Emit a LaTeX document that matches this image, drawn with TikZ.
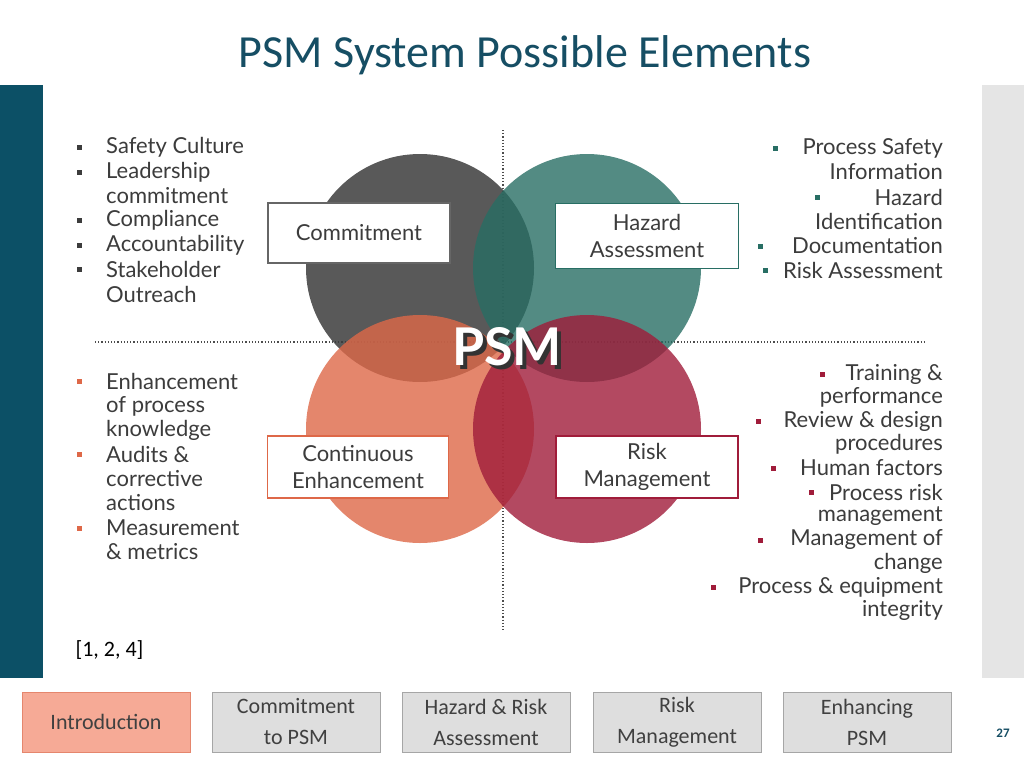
\documentclass[tikz,border=0pt]{standalone}
\usepackage{fontspec}
\setmainfont{Carlito}
\newfontfamily\listfont{Lato}
\usetikzlibrary{positioning}
\definecolor{titleTeal}{RGB}{22,78,100}
\definecolor{barTeal}{RGB}{12,80,102}
\definecolor{circGray}{RGB}{60,60,60}
\definecolor{circTeal}{RGB}{40,110,100}
\definecolor{circOrange}{RGB}{222,104,72}
\definecolor{circRed}{RGB}{160,28,58}
\definecolor{tabSalmon}{RGB}{246,170,150}
\definecolor{tabGray}{RGB}{222,222,222}
\definecolor{textGray}{RGB}{60,60,60}
\tikzset{
  lst/.style={font=\listfont\fontsize{22}{24}\selectfont,text=textGray,inner sep=0pt},
  bul/.style={fill=#1,minimum size=5pt,inner sep=0pt},
  tag/.style={draw=#1,line width=1.6pt,fill=white,font=\listfont\fontsize{22}{27}\selectfont,text=textGray,align=center},
  tab/.style={draw=gray!70,fill=tabGray,minimum width=168pt,minimum height=60pt,font=\fontsize{22}{31}\selectfont,text=black!75,align=center}
}
\begin{document}
\begin{tikzpicture}[x=1pt,y=-1pt]
\useasboundingbox (0,0) rectangle (1024,768);
\fill[white] (0,0) rectangle (1024,768);
% frame
\node[font=\fontsize{46}{48}\selectfont,text=titleTeal] (title) at (525,55) {PSM System Possible Elements};
\fill[barTeal] (0,85) rectangle (43,678);
\fill[black!10] (982,85) rectangle (1024,678);
% guide lines
\draw[dotted,line width=1.2pt,black!70] (503,130) -- (503,630);
\draw[dotted,line width=1.2pt,black!70] (95,342) -- (925,342);
% circles
\fill[circGray,opacity=.85] (420,268) circle (114);
\fill[circTeal,opacity=.8] (587,268) circle (114);
\fill[circOrange,opacity=.8] (420,429) circle (114);
\fill[circRed,opacity=.8] (587,429) circle (114);
\node[font=\listfont\bfseries\fontsize{52}{56}\selectfont,text=black!80] at (511,351) {PSM};
\node[font=\listfont\bfseries\fontsize{52}{56}\selectfont,text=white] (psm) at (507,347) {PSM};
% tags
\node[tag=black!60,minimum width=182pt,minimum height=60pt] (commit) at (359,233) {Commitment};
\node[tag=circTeal,minimum width=183pt,minimum height=65pt] (hazard) at (647,236) {Hazard\\Assessment};
\node[tag=circOrange,minimum width=181pt,minimum height=62pt] (contin) at (358,467) {Continuous\\Enhancement};
\node[tag=circRed,minimum width=182pt,minimum height=62pt] (riskm) at (647,467) {Risk\\Management};
% left lists
\foreach \y/\t in {147/Safety Culture,172/Leadership,196/commitment,220/Compliance,245/Accountability,269/Stakeholder,294/Outreach}
  \node[lst,anchor=west] at (106,\y) {\t};
\foreach \y in {147,172,220,245,269}
  \node[bul=textGray] at (79,\y) {};
\foreach \y/\t in {381/Enhancement,406/of process,430/knowledge,454/Audits \&,479/corrective,503/actions,528/Measurement,552/\& metrics}
  \node[lst,anchor=west] at (106,\y) {\t};
\foreach \y in {381,454,528}
  \node[bul=circOrange] at (79,\y) {};
% right lists
\foreach \y/\t in {148/Process Safety,172/Information,197/Hazard,221/Identification,246/Documentation,270/Risk Assessment}
  \node[lst,anchor=east] at (943,\y) {\t};
\foreach \x/\y in {775/148,817/197,760/246,765/270}
  \node[bul=circTeal] at (\x,\y) {};
\foreach \y/\t in {374/Training \&,397/performance,421/Review \& design,444/procedures,468/Human factors,492/Process risk,516/management,540/Management of,563/change,587/Process \& equipment,610/integrity}
  \node[lst,anchor=east] at (943,\y) {\t};
\foreach \x/\y in {822/374,758/421,773/468,811/492,760/540,713/587}
  \node[bul=circRed] at (\x,\y) {};
\node[font=\fontsize{22}{24}\selectfont,anchor=west] (refs) at (72,650) {[1, 2, 4]};
% tabs
\node[tab,fill=tabSalmon,draw=circOrange!80] (intro) at (106,722) {Introduction};
\node[tab] (tcommit) at (296,722) {Commitment\\to PSM};
\node[tab] (thazard) at (486,722) {Hazard \& Risk\\Assessment};
\node[tab] (trisk) at (677,722) {Risk\\Management};
\node[tab] (tenh) at (867,722) {Enhancing\\PSM};
\node[font=\bfseries\fontsize{13}{15}\selectfont,text=titleTeal] (page) at (1003,733) {27};
\end{tikzpicture}
\end{document}
